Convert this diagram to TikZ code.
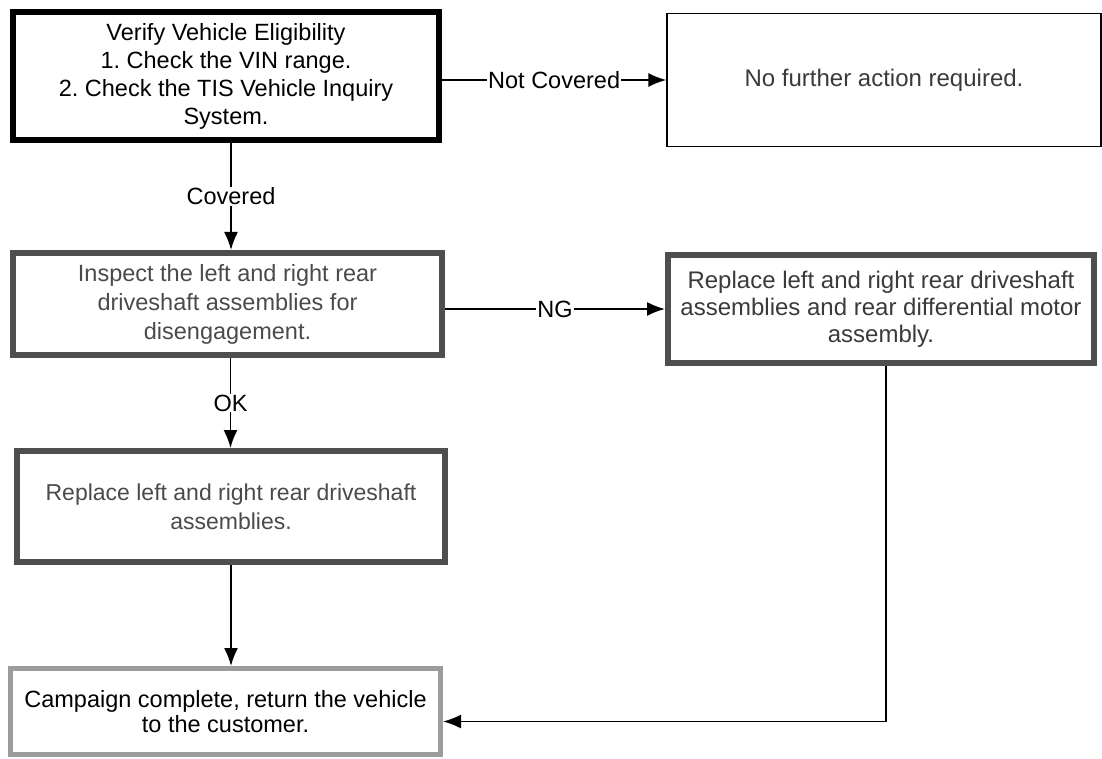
\documentclass[tikz,border=0pt]{standalone}
\usepackage{fontspec}
\setmainfont{Liberation Sans}
\usetikzlibrary{arrows.meta}
\frenchspacing
\definecolor{boxdark}{HTML}{4E4E4E}
\definecolor{boxlight}{HTML}{9C9C9C}
\definecolor{txtgray}{HTML}{3A3A3A}
\definecolor{txtmid}{HTML}{4A4A4A}
\tikzset{
  box/.style={draw, rectangle, inner sep=0pt, align=center, font=\fontsize{24}{27}\selectfont},
  thickbox/.style={box, draw=black, line width=6pt},
  thinbox/.style={box, draw=black, line width=1.4pt, text=txtgray},
  darkbox/.style={box, draw=boxdark, line width=6pt, text=txtmid},
  lightbox/.style={box, draw=boxlight, line width=5pt},
  arr/.style={line width=1.7pt, -{Latex[length=18pt,width=14pt]}},
  lbl/.style={fill=white, inner sep=1pt, font=\fontsize{23.5}{26}\selectfont}
}
\begin{document}
\begin{tikzpicture}[x=1pt,y=-1pt]
\useasboundingbox (0,0) rectangle (1102,759);
\node[thickbox, minimum width=426pt, minimum height=128pt, font=\fontsize{23.5}{28}\selectfont] (v) at (226,76)
  {Verify Vehicle Eligibility\\1. Check the VIN range.\\2. Check the TIS Vehicle Inquiry\\System.};
\node[thinbox, minimum width=434pt, minimum height=133pt] (n) at (884,80)
  {No further action required.};
\node[darkbox, minimum width=429pt, minimum height=102pt, font=\fontsize{23.5}{29}\selectfont] (i) at (227.5,304)
  {Inspect the left and right rear\\driveshaft assemblies for\\disengagement.};
\node[darkbox, minimum width=426pt, minimum height=108pt, text=txtgray] (r) at (881,309)
  {Replace left and right rear driveshaft\\assemblies and rear differential motor\\assembly.};
\node[darkbox, minimum width=428pt, minimum height=111pt, font=\fontsize{23}{29}\selectfont] (r2) at (231,506.5)
  {Replace left and right rear driveshaft\\assemblies.};
\node[lightbox, text=black, minimum width=430pt, minimum height=86pt, font=\fontsize{23.5}{25}\selectfont] (c) at (225.5,711.5)
  {Campaign complete, return the vehicle\\to the customer.};
\draw[arr] (n.west -| v.east) -- node[lbl]{Not Covered} (n.west);
\draw[arr] ([xshift=5pt]v.south) -- node[lbl]{Covered} ([xshift=5pt]v.south |- i.north);
\draw[arr] (r.west -| i.east) -- node[lbl]{NG} (r.west);
\draw[arr] ([xshift=3pt]i.south) -- node[lbl]{OK} ([xshift=3pt]i.south |- r2.north);
\draw[arr] (r2.south) -- (r2.south |- c.north);
\draw[arr] ([xshift=5pt]r.south) |- ([yshift=-10pt]c.east);
\end{tikzpicture}
\end{document}
